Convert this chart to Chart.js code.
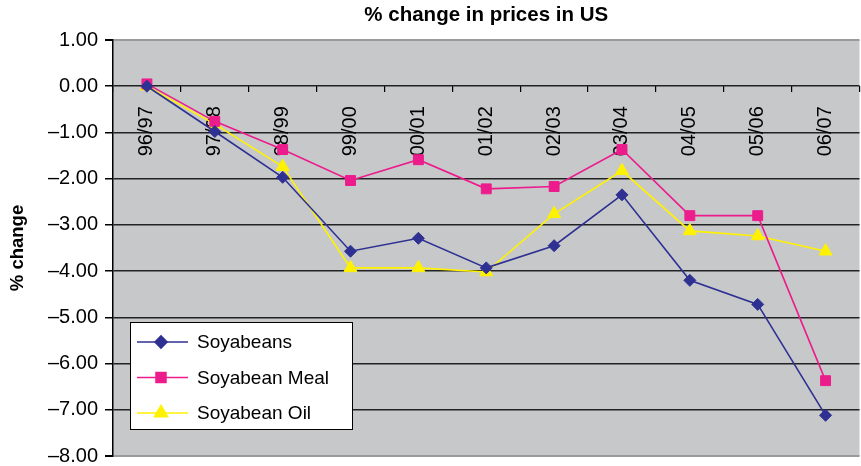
<!DOCTYPE html>
<html>
<head>
<meta charset="utf-8">
<script src="https://cdn.jsdelivr.net/npm/chart.js@4/dist/chart.umd.min.js"></script>
<style>
  html, body { margin: 0; padding: 0; background: #fff; overflow: hidden; }
  #wrap { width: 868px; height: 466px; overflow: hidden; }
</style>
</head>
<body>
<div id="wrap"><canvas id="priceChart" width="868" height="475"></canvas></div>
<script>
const seasons = ['96/97', '97/98', '98/99', '99/00', '00/01', '01/02', '02/03', '03/04', '04/05', '05/06', '06/07'];
const soyabeans = [0.00, -0.98, -1.97, -3.57, -3.29, -3.93, -3.45, -2.35, -4.20, -4.72, -7.12];
const soyabeanMeal = [0.05, -0.76, -1.37, -2.04, -1.59, -2.22, -2.17, -1.37, -2.80, -2.80, -6.37];
const soyabeanOil = [0.00, -0.82, -1.74, -3.93, -3.93, -4.02, -2.76, -1.83, -3.13, -3.24, -3.57];

const FONT = '"Liberation Sans", Arial, Helvetica, sans-serif';

// grey plot area, title above it, legend box in the lower left
const plotDecor = {
    id: 'plotDecor',
    beforeDraw(chart) {
        const { ctx, chartArea: a } = chart;
        ctx.save();
        ctx.fillStyle = '#c7c8ca';
        ctx.fillRect(a.left, a.top, a.right - a.left, a.bottom - a.top);
        ctx.restore();
    },
    afterDraw(chart) {
        const { ctx, chartArea: a } = chart;
        ctx.save();
        ctx.fillStyle = '#000';
        ctx.font = 'bold 20.5px ' + FONT;
        ctx.textAlign = 'center';
        ctx.textBaseline = 'middle';
        ctx.fillText('% change in prices in US', (a.left + a.right) / 2, 15);

        // legend
        const bx = a.left + 17, by = 322, bw = 222, bh = 107;
        ctx.fillStyle = '#fff';
        ctx.fillRect(bx, by, bw, bh);
        ctx.strokeStyle = '#000';
        ctx.lineWidth = 1;
        ctx.strokeRect(bx + 0.5, by + 0.5, bw, bh);
        ctx.font = '19px ' + FONT;
        ctx.textAlign = 'left';
        chart.data.datasets.forEach((ds, i) => {
            const y = by + 20 + i * 35.5;
            ctx.strokeStyle = ds.borderColor;
            ctx.lineWidth = ds.borderWidth;
            ctx.beginPath();
            ctx.moveTo(bx + 7, y);
            ctx.lineTo(bx + 58, y);
            ctx.stroke();
            ctx.fillStyle = ds.pointBackgroundColor;
            ctx.strokeStyle = ds.pointBorderColor;
            Chart.helpers.drawPoint(ctx, {
                pointStyle: ds.pointStyle,
                radius: ds.pointRadius,
                rotation: 0,
                borderWidth: 1
            }, bx + 31, y);
            ctx.fillStyle = '#000';
            ctx.fillText(ds.label, bx + 67, y + 1);
        });
        ctx.restore();
    }
};

function series(label, data, color, style, radius) {
    return {
        label: label,
        data: data,
        borderColor: color,
        backgroundColor: color,
        borderWidth: 1.6,
        pointStyle: style,
        pointRadius: radius,
        pointHoverRadius: radius,
        pointBackgroundColor: color,
        pointBorderColor: color,
        pointBorderWidth: 1,
        tension: 0
    };
}

new Chart(document.getElementById('priceChart'), {
    type: 'line',
    data: {
        labels: seasons,
        datasets: [
            series('Soyabeans', soyabeans, '#2e3192', 'rectRot', 6),
            series('Soyabean Meal', soyabeanMeal, '#ec1c8c', 'rect', 7),
            series('Soyabean Oil', soyabeanOil, '#fff200', 'triangle', 7.5)
        ]
    },
    options: {
        responsive: false,
        animation: false,
        layout: { padding: { top: 40, bottom: 0, left: 0, right: 0 } },
        plugins: {
            legend: { display: false },
            title: { display: false },
            tooltip: { enabled: false }
        },
        scales: {
            x: {
                position: { y: 0 },
                offset: true,
                // the axis sits on the zero line, so it takes no room at the bottom
                afterFit(scale) { scale.height = 0; },
                grid: {
                    offset: true,
                    drawOnChartArea: false,
                    drawTicks: true,
                    tickLength: 6,
                    color: '#000',
                    lineWidth: 1.2
                },
                border: { display: false },
                ticks: {
                    minRotation: 90,
                    maxRotation: 90,
                    autoSkip: false,
                    padding: 14,
                    color: '#000',
                    font: { family: FONT, size: 20 }
                }
            },
            y: {
                min: -8,
                max: 1,
                afterFit(scale) { scale.width = 113; },
                ticks: {
                    stepSize: 1,
                    padding: 7,
                    color: '#000',
                    font: { family: FONT, size: 20 },
                    callback: v => (v < 0 ? '\u2013' : '') + Math.abs(v).toFixed(2)
                },
                grid: {
                    color: c => (c.tick && (c.tick.value === 1 || c.tick.value === -8)) ? '#9a9a9a' : '#222',
                    lineWidth: c => (c.tick && (c.tick.value === 1 || c.tick.value === -8)) ? 2 : 1.5,
                    tickColor: '#000',
                    tickLength: 8
                },
                border: { display: true, color: '#000', width: 1.5 },
                title: {
                    display: true,
                    text: '% change',
                    color: '#000',
                    font: { family: FONT, size: 18.5, weight: 'bold' },
                    padding: { top: 7, bottom: 0 }
                }
            }
        }
    },
    plugins: [plotDecor]
});
</script>
</body>
</html>
